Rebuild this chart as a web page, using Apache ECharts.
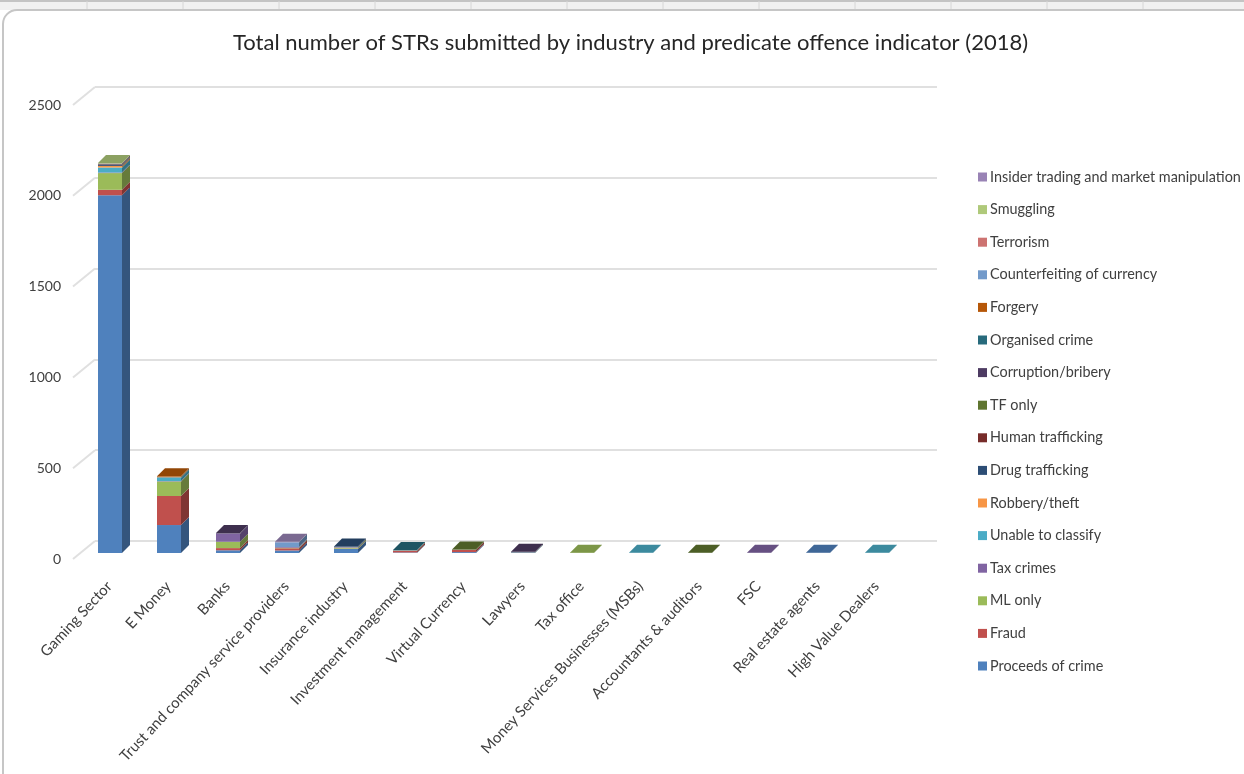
<!DOCTYPE html>
<html>

<head>
	<meta charset="UTF-8">
	<title>Total number of STRs submitted by industry and predicate offence indicator (2018)</title>
	<script src="https://cdn.jsdelivr.net/npm/echarts@6/dist/echarts.min.js"></script>
	<style>
		html, body { margin: 0; padding: 0; background: #fff; }
		#container { width: 1244px; height: 774px; }
	</style>
</head>

<body>
	<div id="container"></div>
	<script type="text/javascript">
		var titleText = 'Total number of STRs submitted by industry and predicate offence indicator (2018)';

		var industries = ['Gaming Sector', 'E Money', 'Banks', 'Trust and company service providers',
			'Insurance industry', 'Investment management', 'Virtual Currency', 'Lawyers', 'Tax office',
			'Money Services Businesses (MSBs)', 'Accountants & auditors', 'FSC', 'Real estate agents',
			'High Value Dealers'];

		// bottom to top of the stack, order of the columns above
		var proceeds = [1970, 154, 15, 14, 22, 3, 5, 3, 0, 0, 0, 0, 1, 0];
		var fraud = [30, 160, 12, 12, 2, 10, 12, 0, 0, 0, 0, 0, 0, 0];
		var mlOnly = [92, 80, 35, 3, 6, 1, 0, 1, 2, 0, 0, 0, 0, 0];
		var taxCrimes = [3, 2, 45, 4, 3, 0, 0, 0, 0, 0, 0, 1, 0, 0];
		var unable = [28, 20, 0, 0, 0, 1, 0, 0, 0, 1, 0, 0, 0, 1];
		var robbery = [8, 1, 0, 0, 0, 0, 0, 0, 0, 0, 0, 0, 0, 0];
		var drugs = [5, 1, 0, 0, 3, 0, 0, 0, 0, 0, 0, 0, 0, 0];
		var humanTrafficking = [2, 0, 0, 0, 0, 0, 0, 0, 0, 0, 0, 0, 0, 0];
		var tfOnly = [1, 0, 0, 0, 0, 0, 2, 0, 0, 0, 1, 0, 0, 0];
		var corruption = [4, 0, 3, 0, 0, 0, 0, 3, 0, 0, 0, 0, 0, 0];
		var organised = [1, 0, 0, 0, 0, 2, 0, 0, 0, 0, 0, 0, 0, 0];
		var forgery = [1, 4, 0, 0, 0, 0, 0, 0, 0, 0, 0, 0, 0, 0];
		var counterfeiting = [0, 0, 0, 26, 0, 0, 0, 0, 0, 0, 0, 0, 0, 0];
		var terrorism = [0, 0, 0, 0, 0, 0, 0, 0, 0, 0, 0, 0, 0, 0];
		var smuggling = [2, 0, 0, 0, 0, 0, 0, 0, 0, 0, 0, 0, 0, 0];
		var insider = [0, 0, 0, 3, 0, 0, 0, 0, 0, 0, 0, 0, 0, 0];

		var seriesNames = ['Proceeds of crime', 'Fraud', 'ML only', 'Tax crimes', 'Unable to classify',
			'Robbery/theft', 'Drug trafficking', 'Human trafficking', 'TF only', 'Corruption/bribery',
			'Organised crime', 'Forgery', 'Counterfeiting of currency', 'Terrorism', 'Smuggling',
			'Insider trading and market manipulation'];
		var seriesValues = [proceeds, fraud, mlOnly, taxCrimes, unable, robbery, drugs, humanTrafficking,
			tfOnly, corruption, organised, forgery, counterfeiting, terrorism, smuggling, insider];
		var seriesColors = ['#4f81bd', '#c0504d', '#9bbb59', '#8064a2', '#4bacc6', '#f79646', '#2c4d75',
			'#772c2a', '#5f7530', '#4d3b62', '#276a7c', '#b65708', '#729aca', '#cd7371', '#afc97a', '#9983b5'];
		var valueTicks = [0, 500, 1000, 1500, 2000, 2500];
		var headerLines = [87, 183, 279, 375, 471, 567, 663, 759, 855, 951, 1047, 1143];

		var fontName = 'Lato';
		var gridColor = '#e0e0e0';

		// 假3D柱子的偏移
		var barWidth = 24;
		var barDepthX = 8;
		var barDepthY = 8;
		var barShiftX = 7.5;
		var barShiftY = -6;
		var wallDepthX = 22;
		var wallDepthY = -18;

		function shade(hex, k) {
			var n = parseInt(hex.slice(1), 16);
			var r = Math.round((n >> 16 & 255) * k);
			var g = Math.round((n >> 8 & 255) * k);
			var b = Math.round((n & 255) * k);
			return 'rgb(' + r + ',' + g + ',' + b + ')';
		}

		function topSeriesOf(cat) {
			for (var s = seriesValues.length - 1; s >= 0; s--) {
				if (seriesValues[s][cat] > 0) {
					return s;
				}
			}
			return -1;
		}

		function stackData(s) {
			var rows = [];
			for (var c = 0; c < industries.length; c++) {
				var base = 0;
				for (var k = 0; k < s; k++) {
					base += seriesValues[k][c];
				}
				if (seriesValues[s][c] > 0) {
					rows.push([c, base, base + seriesValues[s][c], topSeriesOf(c) === s ? 1 : 0]);
				}
			}
			return rows;
		}

		function barRenderer(color) {
			return function (params, api) {
				var low = api.coord([api.value(0), api.value(1)]);
				var high = api.coord([api.value(0), api.value(2)]);
				var x = low[0] + barShiftX - barWidth / 2;
				var y0 = low[1] + barShiftY;
				var y1 = high[1] + barShiftY;
				var children = [{
					type: 'rect',
					shape: { x: x, y: y1, width: barWidth, height: y0 - y1 },
					style: { fill: color }
				}, {
					type: 'polygon',
					shape: {
						points: [[x + barWidth, y0], [x + barWidth + barDepthX, y0 - barDepthY],
							[x + barWidth + barDepthX, y1 - barDepthY], [x + barWidth, y1]]
					},
					style: { fill: shade(color, 0.66) }
				}];
				if (api.value(3) === 1) {
					children.push({
						type: 'polygon',
						shape: {
							points: [[x, y1], [x + barDepthX, y1 - barDepthY],
								[x + barWidth + barDepthX, y1 - barDepthY], [x + barWidth, y1]]
						},
						style: { fill: shade(color, 0.8) }
					});
				}
				return { type: 'group', children: children };
			};
		}

		function wallRenderer(params, api) {
			var p = api.coord([0, api.value(0)]);
			return {
				type: 'line',
				shape: {
					x1: params.coordSys.x,
					y1: p[1],
					x2: params.coordSys.x + wallDepthX,
					y2: p[1] + wallDepthY
				},
				style: { stroke: gridColor, lineWidth: 2 }
			};
		}

		var series = [{
			name: 'wall',
			type: 'custom',
			xAxisIndex: 1,
			yAxisIndex: 1,
			silent: true,
			data: valueTicks.map(function (v) { return [v]; }),
			encode: { y: 0 },
			renderItem: wallRenderer
		}, {
			// 只为了让后墙的坐标系显示网格线
			name: 'back',
			type: 'bar',
			xAxisIndex: 0,
			yAxisIndex: 0,
			silent: true,
			data: []
		}];

		seriesNames.forEach(function (name, s) {
			series.push({
				name: name,
				type: 'custom',
				xAxisIndex: 1,
				yAxisIndex: 1,
				itemStyle: { color: seriesColors[s] },
				encode: { x: 0, y: [1, 2] },
				data: stackData(s),
				renderItem: barRenderer(seriesColors[s])
			});
		});

		var headerGraphics = [{
			type: 'rect',
			shape: { x: 0, y: 0, width: 1244, height: 10 },
			style: { fill: '#f1f1f1' }
		}, {
			type: 'rect',
			shape: { x: 0, y: 0, width: 1244, height: 2 },
			style: { fill: '#c4c4c4' }
		}, {
			type: 'rect',
			shape: { x: 3, y: 10, width: 1400, height: 1000, r: 14 },
			style: { fill: '#fff', stroke: '#c6c6c6', lineWidth: 2 }
		}];
		headerLines.forEach(function (x) {
			headerGraphics.push({
				type: 'line',
				shape: { x1: x, y1: 1, x2: x, y2: 9 },
				style: { stroke: '#d6d6d6', lineWidth: 1 }
			});
		});

		var myChart = echarts.init(document.getElementById('container'));
		var option = {
			animation: false,
			backgroundColor: '#fff',
			graphic: { elements: [{ type: 'group', z: -10, children: headerGraphics }] },
			title: {
				text: titleText,
				left: 228,
				top: 27,
				textStyle: {
					fontFamily: fontName,
					fontSize: 22,
					fontWeight: 'normal',
					color: '#262626'
				}
			},
			legend: {
				orient: 'vertical',
				left: 973,
				top: 165,
				icon: 'rect',
				itemWidth: 9,
				itemHeight: 9,
				itemGap: 18.6,
				selectedMode: false,
				data: seriesNames.slice().reverse(),
				textStyle: {
					fontFamily: fontName,
					fontSize: 14.4,
					color: '#404040',
					padding: [0, 0, 0, -2]
				}
			},
			grid: [{
				left: 95,
				top: 87,
				width: 842,
				height: 454
			}, {
				left: 73,
				top: 105,
				width: 826,
				height: 454
			}],
			xAxis: [{
				type: 'category',
				gridIndex: 0,
				data: industries,
				axisLine: { show: false },
				axisTick: { show: false },
				axisLabel: { show: false }
			}, {
				type: 'category',
				gridIndex: 1,
				data: industries,
				axisLine: { show: false },
				axisTick: { show: false },
				axisLabel: {
					interval: 0,
					rotate: 47,
					margin: 32,
					padding: [0, -10, 0, 0],
					fontFamily: fontName,
					fontSize: 15,
					color: '#404040'
				}
			}],
			yAxis: [{
				type: 'value',
				gridIndex: 0,
				min: 0,
				max: 2500,
				interval: 500,
				axisLine: { show: false },
				axisTick: { show: false },
				axisLabel: { show: false },
				splitLine: { show: true, lineStyle: { color: gridColor, width: 2 } }
			}, {
				type: 'value',
				gridIndex: 1,
				min: 0,
				max: 2500,
				interval: 500,
				axisLine: { show: false },
				axisTick: { show: false },
				splitLine: { show: false },
				axisLabel: {
					margin: 12,
					fontFamily: fontName,
					fontSize: 14,
					color: '#404040',
					formatter: function (v) { return String(v); }
				}
			}],
			series: series
		};
		myChart.setOption(option);
	</script>

</body>

</html>
